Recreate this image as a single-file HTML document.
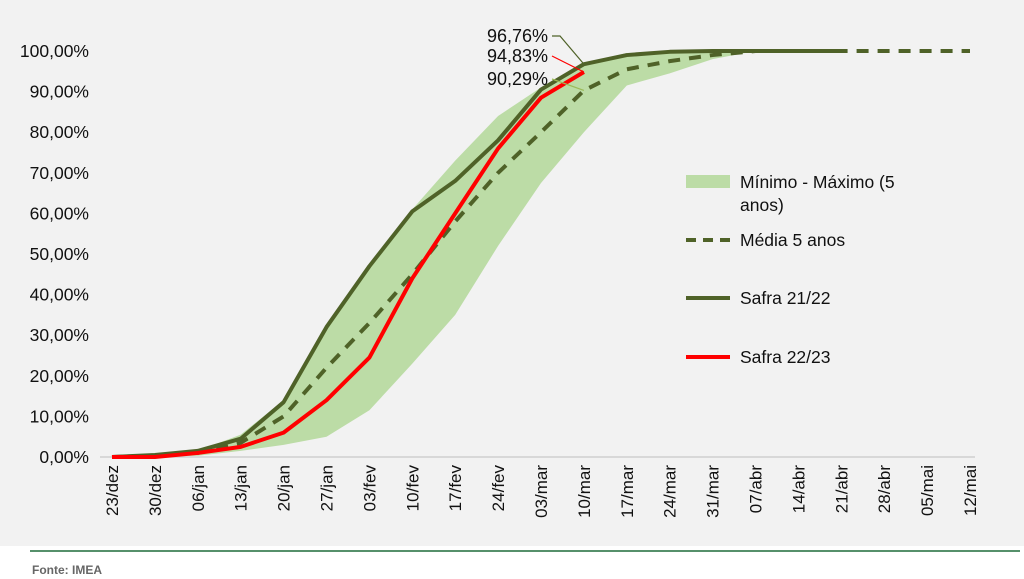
<!DOCTYPE html>
<html><head><meta charset="utf-8"><style>
body{margin:0;background:#fff;font-family:"Liberation Sans",sans-serif}
svg{display:block}
</style></head><body>
<svg id="c" width="1024" height="579">
<rect x="0" y="0" width="1024" height="546" fill="#f2f2f2"/>
<line x1="30" y1="551" x2="1020" y2="551" stroke="#1e6b3a" stroke-width="1.5"/>
<text x="32" y="574" font-size="12" font-weight="bold" fill="#666">Fonte: IMEA</text>
<g id="plot"></g>
<g>
<rect x="686" y="175" width="44" height="13" fill="#bcdca6"/>
<text x="740" y="188" font-size="17.5" fill="#111">Mínimo - Máximo (5</text>
<text x="740" y="211" font-size="17.5" fill="#111">anos)</text>
<line x1="686" y1="240" x2="730" y2="240" stroke="#4f6228" stroke-width="4" stroke-dasharray="10,7"/>
<text x="740" y="246" font-size="17.5" fill="#111">Média 5 anos</text>
<line x1="686" y1="298" x2="730" y2="298" stroke="#4f6228" stroke-width="4"/>
<text x="740" y="304" font-size="17.5" fill="#111">Safra 21/22</text>
<line x1="686" y1="357" x2="730" y2="357" stroke="#ff0000" stroke-width="4"/>
<text x="740" y="363" font-size="17.5" fill="#111">Safra 22/23</text>
</g>
</svg>
<script>
const categories=["23/dez","30/dez","06/jan","13/jan","20/jan","27/jan","03/fev","10/fev","17/fev","24/fev","03/mar","10/mar","17/mar","24/mar","31/mar","07/abr","14/abr","21/abr","28/abr","05/mai","12/mai"];
const yTicks=[0,10,20,30,40,50,60,70,80,90,100];
const minVals=[0,0,0.3,1.5,3,5,11.5,23,35,52,67.5,80,91.5,94.5,98,100];
const maxVals=[0,0.5,1.5,5.5,14,32,47,61,73,84,91,97,99.5,100,100,100];
const mean5=[0,0.3,1,3.5,10,22,33,45,58,70,80,90.29,95.5,97.5,99,100,100,100,100,100,100];
const safra2122=[0,0.5,1.5,4.5,13.5,32,47,60.5,68,78,90.5,96.76,99,99.8,100,100,100,100];
const safra2223=[0,0,1,2.5,6,14,24.5,44,60,76,88.5,94.83];
const NS="http://www.w3.org/2000/svg";
const g=document.getElementById('plot');
const X=i=>112+i*(970-112)/(categories.length-1);
const Y=v=>457-v*4.06;
function el(t,a){const e=document.createElementNS(NS,t);for(const k in a)e.setAttribute(k,a[k]);g.appendChild(e);return e;}
const fmt=v=>v.toFixed(2).replace('.',',')+'%';
yTicks.forEach(v=>{const t=el('text',{x:89,y:Y(v)+6,'font-size':17.5,'text-anchor':'end',fill:'#111'});t.textContent=fmt(v);

});
const axis=el('line',{x1:100,y1:Y(0),x2:975,y2:Y(0),stroke:'#d0d0d0','stroke-width':1.5});


categories.forEach((c,i)=>{const t=el('text',{x:0,y:0,'font-size':17,'text-anchor':'end',fill:'#111',transform:`translate(${X(i)+6},465) rotate(-90)`});t.textContent=c;

});
let pts=maxVals.map((v,i)=>X(i)+','+Y(v));
for(let i=minVals.length-1;i>=0;i--)pts.push(X(i)+','+Y(minVals[i]));
const band=el('polygon',{points:pts.join(' '),fill:'#bcdca6'});


function line(arr,color,dash,name){const p=el('polyline',{points:arr.map((v,i)=>X(i)+','+Y(v)).join(' '),fill:'none',stroke:color,'stroke-width':4,'stroke-linejoin':'round'});if(dash)p.setAttribute('stroke-dasharray',dash);

}
line(mean5,'#4f6228','12,9','series-mean-5-anos');
line(safra2122,'#4f6228',null,'series-safra-21-22');
line(safra2223,'#ff0000',null,'series-safra-22-23');
const lx=X(11);
function lab(val,ty,color,sx,name){const t=el('text',{x:548,y:ty,'font-size':18,'text-anchor':'end',fill:'#111'});t.textContent=fmt(val);


const l=el('polyline',{points:`552,${ty-6} ${sx},${ty-6} ${lx},${Y(val)}`,fill:'none',stroke:color,'stroke-width':1.2});

}
lab(safra2122[11],42,'#4f6228',560,'label-safra-21-22');
lab(safra2223[11],62,'#ff0000',552,'label-safra-22-23');
lab(mean5[11],85,'#9bbb59',552,'label-mean');
</script>
</body></html>
